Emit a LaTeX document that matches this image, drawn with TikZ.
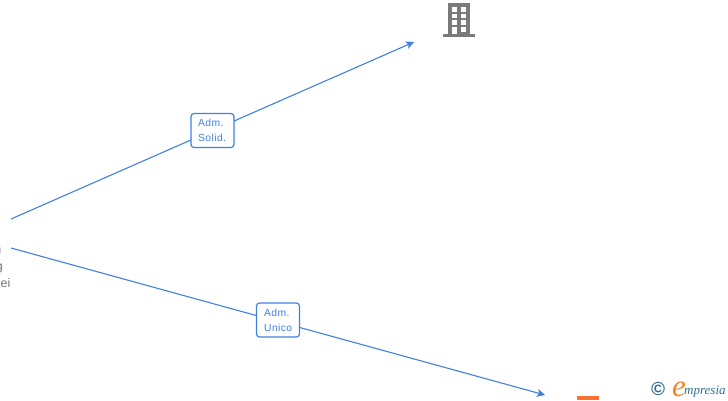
\documentclass[tikz,border=0pt]{standalone}
\usepackage{fontspec}
\setmainfont{Liberation Sans}
\newfontfamily\logofont{Liberation Serif}
\usetikzlibrary{arrows.meta}
\definecolor{linkblue}{HTML}{3F80E0}
\definecolor{txtgrey}{HTML}{777777}
\definecolor{bldgrey}{HTML}{7A7A7A}
\definecolor{logoteal}{HTML}{2F6F8F}
\definecolor{logoorange}{HTML}{F58220}
\definecolor{boxorange}{HTML}{FF7033}
\tikzset{
  link/.style={draw=linkblue,line width=1.1pt,-{Stealth[length=8pt,width=8pt,inset=2pt]}},
  rolebox/.style={draw=linkblue,fill=white,line width=1.2pt,rounded corners=3pt,minimum width=43pt,minimum height=34pt,inner sep=0pt,text=linkblue},
  rolelabel/.style={inner sep=0pt,anchor=base west,text=linkblue,font=\fontsize{10.3}{12}\selectfont\addfontfeatures{LetterSpace=4}},
  cuttext/.style={text=txtgrey,inner sep=0pt,anchor=base east,font=\fontsize{12.5}{14}\selectfont},
  win/.style={fill=white,draw=none}
}
\begin{document}
\begin{tikzpicture}[x=1pt,y=-1pt]
\useasboundingbox (0,0) rectangle (728,400);
\clip (0,0) rectangle (728,400);
\coordinate (s1) at (11,219);
\coordinate (e1) at (414,42);
\coordinate (s2) at (11,248);
\coordinate (e2) at (545,395);
\draw[link] (s1) -- (e1);
\draw[link] (s2) -- (e2);
\node[rolebox] (r1) at (212.5,130.5) {};
\node[rolelabel] (r1a) at (198,126) {Adm.};
\node[rolelabel] (r1b) at (198,141) {Solid.};
\node[rolebox] (r2) at (278,320) {};
\node[rolelabel] (r2a) at (264,316) {Adm.};
\node[rolelabel] (r2b) at (264,331.5) {Unico};
\node[cuttext] (t1) at (1.5,253) {n};
\node[cuttext] (t2) at (3,270) {g};
\node[cuttext] (t3) at (10.5,287) {ei};
% building icon
\fill[bldgrey] (447.5,3) rectangle (470,33.5);
\fill[bldgrey] (443,33.5) rectangle (475,37);
\foreach \yy in {7,13.5,20}{
  \fill[win] (451.5,\yy) rectangle (456.5,\yy+4.5);
  \fill[win] (461,\yy) rectangle (466,\yy+4.5);
}
\fill[win] (451.5,27) rectangle (456.5,33.5);
\fill[win] (461,27) rectangle (466,31.5);
% orange company icon, cut by the edge
\fill[boxorange] (576.5,396) rectangle (599,400);
% logo
\node[inner sep=0pt,text=logoteal,font=\fontsize{19}{19}\selectfont\bfseries] (copy) at (658,389) {©};
\node[inner sep=0pt,anchor=base west,text=logoorange,font=\logofont\fontsize{31}{31}\selectfont\itshape] (logoe) at (672,396) {e};
\node[inner sep=0pt,anchor=base west,text=logoteal,font=\logofont\fontsize{13}{14}\selectfont\itshape] (logot) at (684,394) {mpresia};
\end{tikzpicture}
\end{document}
